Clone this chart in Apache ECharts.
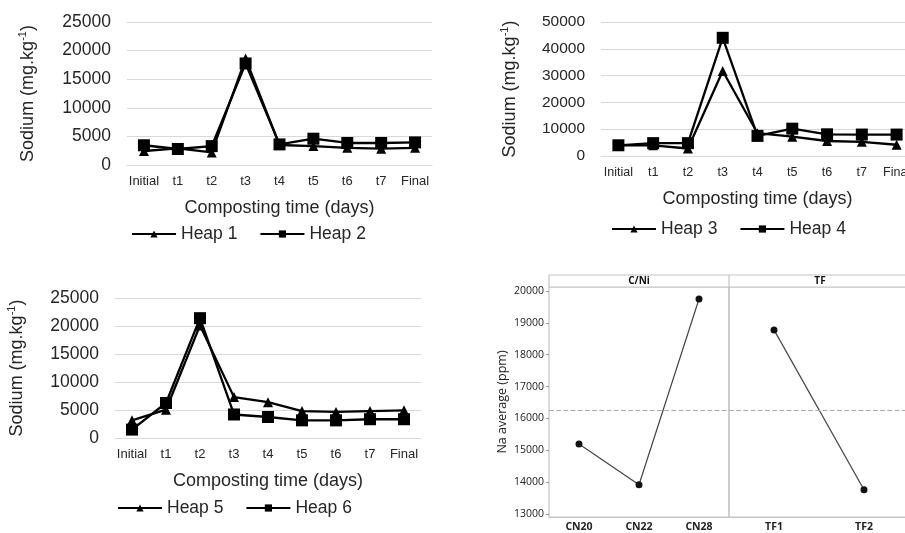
<!DOCTYPE html>
<html>
<head>
<meta charset="utf-8">
<script src="https://cdn.jsdelivr.net/npm/echarts@6/dist/echarts.min.js"></script>
<style>
  html, body { margin: 0; padding: 0; background: #fff; overflow: hidden; width: 905px; height: 533px; }
  #chart { width: 930px; height: 533px; }
</style>
</head>
<body>
<div id="chart"></div>
<script>
// sampling points
const days = ['Initial', 't1', 't2', 't3', 't4', 't5', 't6', 't7', 'Final']
// sodium (mg/kg) per heap
const heap1 = [2450, 2900, 2200, 18600, 3500, 3300, 3000, 2850, 3000]
const heap2 = [3450, 2800, 3300, 17750, 3600, 4600, 3850, 3850, 3950]
const heap3 = [4000, 4000, 2800, 31700, 8500, 7200, 5600, 5300, 4200]
const heap4 = [4000, 4800, 4800, 44100, 7500, 10200, 8100, 8000, 8000]
const heap5 = [3150, 5050, 20100, 7300, 6400, 4800, 4650, 4800, 4950]
const heap6 = [1500, 6250, 21400, 4200, 3750, 3150, 3150, 3350, 3350]
// main effects plot
const cnLevels = ['CN20', 'CN22', 'CN28']
const cnMeans = [15200, 13920, 19750]
const tfLevels = ['TF1', 'TF2']
const tfMeans = [18780, 13760]
const grandMean = 16270
const naTicks = [13000, 14000, 15000, 16000, 17000, 18000, 19000, 20000]

const font = 'Liberation Sans, Arial, sans-serif'
const mfont = 'Open Sans, Noto Sans, sans-serif'
const txt = '#262626'
const gridGray = '#d9d9d9'
const plain = v => String(v)

let myChart = echarts.init(document.getElementById('chart'))

// excel style axes
function excelX (gi, labelSize) {
  return {
    type: 'category',
    gridIndex: gi,
    data: days,
    axisLine: { lineStyle: { color: gridGray, width: 1.2 } },
    axisTick: { show: false },
    axisLabel: { color: txt, fontSize: labelSize, fontFamily: font, margin: 10, interval: 0 },
    name: 'Composting time (days)',
    nameLocation: 'middle',
    nameGap: 34,
    nameTextStyle: { color: txt, fontSize: 18, fontFamily: font }
  }
}
function excelY (gi, max, interval, size, gap) {
  return {
    type: 'value',
    gridIndex: gi,
    min: 0,
    max: max,
    interval: interval,
    axisLine: { show: false },
    axisTick: { show: false },
    splitLine: { lineStyle: { color: gridGray, width: 1.2 } },
    axisLabel: { color: txt, fontSize: size, fontFamily: font, margin: 16, formatter: plain },
    name: '{a|Sodium (mg.kg}{s|-1}{a|)}',
    nameLocation: 'middle',
    nameGap: gap,
    nameTextStyle: {
      rich: {
        a: { fontSize: 18, fontFamily: font, color: txt, lineHeight: 20, verticalAlign: 'bottom' },
        s: { fontSize: 11, fontFamily: font, color: txt, lineHeight: 20, verticalAlign: 'top' }
      }
    }
  }
}
function heap (name, data, idx, tri) {
  return {
    name: name,
    type: 'line',
    xAxisIndex: idx,
    yAxisIndex: idx,
    data: data,
    symbol: tri ? 'triangle' : 'rect',
    symbolSize: tri ? 10 : 12,
    itemStyle: { color: '#000' },
    lineStyle: { color: '#000', width: 2.3 },
    animation: false
  }
}
function legendAt (names, left, top) {
  return {
    data: names,
    left: left,
    top: top,
    itemWidth: 44,
    itemHeight: 9,
    itemGap: 22,
    textStyle: { fontSize: 17.5, fontFamily: font, color: txt }
  }
}

let minitabLabel = { color: '#222', fontSize: 10.5, fontWeight: 'bold', fontFamily: mfont }

let option = {
  backgroundColor: '#fff',
  animation: false,
  grid: [
    { left: 127, top: 22, width: 305, height: 143 },
    { left: 601, top: 22, width: 313, height: 134 },
    { left: 115, top: 298, width: 306, height: 140 },
    { left: 549, top: 287, width: 180, height: 230, show: true, borderColor: '#c4c4c4', borderWidth: 1.2 },
    { left: 729, top: 287, width: 180, height: 230, show: true, borderColor: '#c4c4c4', borderWidth: 1.2 }
  ],
  legend: [
    legendAt(['Heap 1', 'Heap 2'], 126, 220),
    legendAt(['Heap 3', 'Heap 4'], 606, 215),
    legendAt(['Heap 5', 'Heap 6'], 112, 494)
  ],
  xAxis: [
    excelX(0, 13),
    Object.assign(excelX(1, 12.5), { nameGap: 34 }),
    excelX(2, 13),
    {
      type: 'category',
      gridIndex: 3,
      data: cnLevels,
      axisLine: { lineStyle: { color: '#c4c4c4' } },
      axisTick: { length: 3, lineStyle: { color: '#999' } },
      axisLabel: Object.assign({ margin: 5 }, minitabLabel)
    },
    {
      type: 'category',
      gridIndex: 4,
      data: tfLevels,
      axisLine: { lineStyle: { color: '#c4c4c4' } },
      axisTick: { length: 3, lineStyle: { color: '#999' } },
      axisLabel: Object.assign({ margin: 5 }, minitabLabel)
    }
  ],
  yAxis: [
    excelY(0, 25000, 5000, 17.5, 90),
    excelY(1, 50000, 10000, 15.5, 82),
    excelY(2, 25000, 5000, 17.5, 89),
    {
      type: 'value',
      gridIndex: 3,
      min: 12906,
      max: 20126,
      splitLine: { show: false },
      axisLine: { show: false },
      axisTick: { show: true, length: 3, customValues: naTicks, lineStyle: { color: '#999' } },
      axisLabel: { customValues: naTicks, formatter: plain, color: '#222', fontSize: 10.5, fontFamily: mfont, margin: 5 },
      name: 'Na average (ppm)',
      nameLocation: 'middle',
      nameGap: 40,
      nameTextStyle: { color: '#222', fontSize: 12.5, fontFamily: mfont }
    },
    {
      type: 'value',
      gridIndex: 4,
      min: 12906,
      max: 20126,
      splitLine: { show: false },
      axisLine: { show: false },
      axisTick: { show: false },
      axisLabel: { show: false }
    }
  ],
  series: [
    heap('Heap 1', heap1, 0, true),
    heap('Heap 2', heap2, 0, false),
    heap('Heap 3', heap3, 1, true),
    heap('Heap 4', heap4, 1, false),
    heap('Heap 5', heap5, 2, true),
    heap('Heap 6', heap6, 2, false),
    {
      name: 'C/Ni',
      type: 'line',
      xAxisIndex: 3,
      yAxisIndex: 3,
      data: cnMeans,
      symbol: 'circle',
      symbolSize: 7,
      itemStyle: { color: '#111' },
      lineStyle: { color: '#444', width: 1.2 },
      markLine: {
        silent: true,
        symbol: 'none',
        label: { show: false },
        lineStyle: { type: 'dashed', color: '#aaa', width: 1.2 },
        data: [{ yAxis: grandMean }]
      }
    },
    {
      name: 'TF',
      type: 'line',
      xAxisIndex: 4,
      yAxisIndex: 4,
      data: tfMeans,
      symbol: 'circle',
      symbolSize: 7,
      itemStyle: { color: '#111' },
      lineStyle: { color: '#444', width: 1.2 },
      markLine: {
        silent: true,
        symbol: 'none',
        label: { show: false },
        lineStyle: { type: 'dashed', color: '#aaa', width: 1.2 },
        data: [{ yAxis: grandMean }]
      }
    }
  ],
  // panel headers of the main effects plot
  graphic: [
    { type: 'rect', shape: { x: 549, y: 275, width: 360, height: 12 }, style: { fill: '#fff', stroke: '#c4c4c4', lineWidth: 1.2 } },
    { type: 'line', shape: { x1: 729, y1: 275, x2: 729, y2: 287 }, style: { stroke: '#c4c4c4', lineWidth: 1.2 } },
    { type: 'text', x: 639, y: 281.5, style: { text: 'C/Ni', fill: '#111', font: 'bold 10px "Open Sans", sans-serif', textAlign: 'center', textVerticalAlign: 'middle' } },
    { type: 'text', x: 820, y: 281.5, style: { text: 'TF', fill: '#111', font: 'bold 10px "Open Sans", sans-serif', textAlign: 'center', textVerticalAlign: 'middle' } }
  ]
}
myChart.setOption(option)
</script>
</body>
</html>
